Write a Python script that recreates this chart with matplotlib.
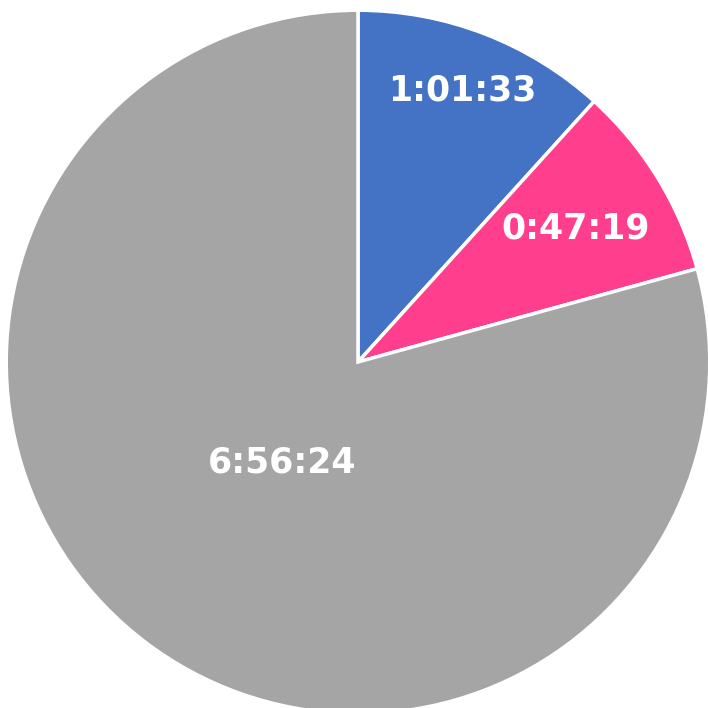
import numpy as np
import matplotlib.pyplot as plt

# durations shown on the slices (h:mm:ss)
labels = ["1:01:33", "0:47:19", "6:56:24"]
seconds = [3693, 2839, 24984]
colors = ["#4472C4", "#FF3F8E", "#A5A5A5"]
# how far out each label sits (fraction of radius)
label_radius = [0.83, 0.73, 0.36]


def main():
    fig = plt.figure(figsize=(7.08, 7.08), dpi=100)
    ax = fig.add_axes([8 / 708, -4 / 708, 700 / 708, 700 / 708])

    wedges, _ = ax.pie(seconds, colors=colors, startangle=90, counterclock=False,
                       radius=1.005, wedgeprops=dict(edgecolor="white", linewidth=2.5))

    for w, lab, r in zip(wedges, labels, label_radius):
        mid = np.deg2rad((w.theta1 + w.theta2) / 2)
        ax.text(r * np.cos(mid), r * np.sin(mid), lab, ha="center", va="center",
                color="white", fontsize=25, fontweight="bold", family=["DejaVu Sans"])

    ax.set_xlim(-1, 1)
    ax.set_ylim(-1, 1)
    ax.set_aspect("equal")
    ax.axis("off")
    fig.savefig("out.png", dpi=100)


if __name__ == "__main__":
    main()
